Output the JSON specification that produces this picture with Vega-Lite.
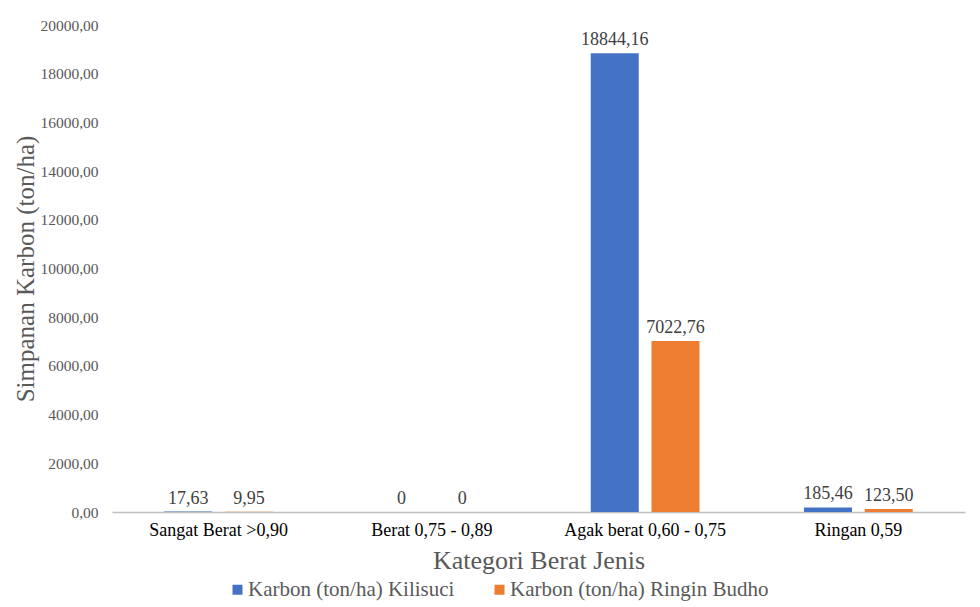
{
  "$schema": "https://vega.github.io/schema/vega-lite/v6.json",
  "autosize": "none",
  "width": 853,
  "height": 487,
  "padding": {"left": 112, "top": 25, "right": 15, "bottom": 95},
  "background": "white",
  "config": {
    "font": "Liberation Serif",
    "view": {"stroke": null},
    "locale": {"number": {"decimal": ",", "thousands": ".", "grouping": [3], "currency": ["", ""]}}
  },
  "data": {
    "values": [
      {"kategori": "Sangat Berat >0,90", "seri": "Karbon (ton/ha) Kilisuci", "nilai": 17.63, "label": "17,63"},
      {"kategori": "Sangat Berat >0,90", "seri": "Karbon (ton/ha) Ringin Budho", "nilai": 9.95, "label": "9,95"},
      {"kategori": "Berat 0,75 - 0,89", "seri": "Karbon (ton/ha) Kilisuci", "nilai": 0, "label": "0"},
      {"kategori": "Berat 0,75 - 0,89", "seri": "Karbon (ton/ha) Ringin Budho", "nilai": 0, "label": "0"},
      {"kategori": "Agak berat 0,60 - 0,75", "seri": "Karbon (ton/ha) Kilisuci", "nilai": 18844.16, "label": "18844,16"},
      {"kategori": "Agak berat 0,60 - 0,75", "seri": "Karbon (ton/ha) Ringin Budho", "nilai": 7022.76, "label": "7022,76"},
      {"kategori": "Ringan 0,59", "seri": "Karbon (ton/ha) Kilisuci", "nilai": 185.46, "label": "185,46"},
      {"kategori": "Ringan 0,59", "seri": "Karbon (ton/ha) Ringin Budho", "nilai": 123.50, "label": "123,50"}
    ]
  },
  "encoding": {
    "x": {
      "field": "kategori", "type": "nominal", "sort": null,
      "scale": {"paddingInner": 0.49, "paddingOuter": 0.245},
      "axis": {
        "title": "Kategori Berat Jenis", "labelAngle": 0, "ticks": false,
        "domainColor": "#bfbfbf", "domainWidth": 1.5,
        "labelFont": "Liberation Serif", "labelFontSize": 18, "labelColor": "#000000", "labelPadding": 9,
        "titleFont": "Liberation Serif", "titleFontSize": 26, "titleFontWeight": "normal", "titleColor": "#595959", "titlePadding": 8
      }
    },
    "xOffset": {"field": "seri", "type": "nominal", "scale": {"paddingInner": 0.21}},
    "y": {
      "field": "nilai", "type": "quantitative",
      "scale": {"domain": [0, 20000]},
      "axis": {
        "title": "Simpanan Karbon (ton/ha)", "format": ".2f", "values": [0,2000,4000,6000,8000,10000,12000,14000,16000,18000,20000],
        "grid": false, "domain": false, "ticks": false, "labelOverlap": false,
        "labelFont": "Liberation Serif", "labelFontSize": 15.5, "labelColor": "#595959", "labelPadding": 14,
        "titleFont": "Liberation Serif", "titleFontSize": 25, "titleFontWeight": "normal", "titleColor": "#595959", "titlePadding": 1
      }
    }
  },
  "layer": [
    {
      "mark": {"type": "bar"},
      "encoding": {
        "color": {
          "field": "seri", "type": "nominal",
          "scale": {"domain": ["Karbon (ton/ha) Kilisuci", "Karbon (ton/ha) Ringin Budho"], "range": ["#4472C4", "#ED7D31"]},
          "legend": {
            "orient": "none", "legendX": 115, "legendY": 554, "title": null, "direction": "horizontal",
            "symbolType": "square", "symbolSize": 100, "symbolStrokeWidth": 0, "labelLimit": 0,
            "labelFont": "Liberation Serif", "labelFontSize": 21, "labelColor": "#595959",
            "columnPadding": 34, "labelOffset": 0
          }
        }
      }
    },
    {
      "mark": {"type": "text", "baseline": "alphabetic", "dy": -8, "fontSize": 18, "color": "#404040", "font": "Liberation Serif"},
      "encoding": {"text": {"field": "label"}}
    }
  ]
}
